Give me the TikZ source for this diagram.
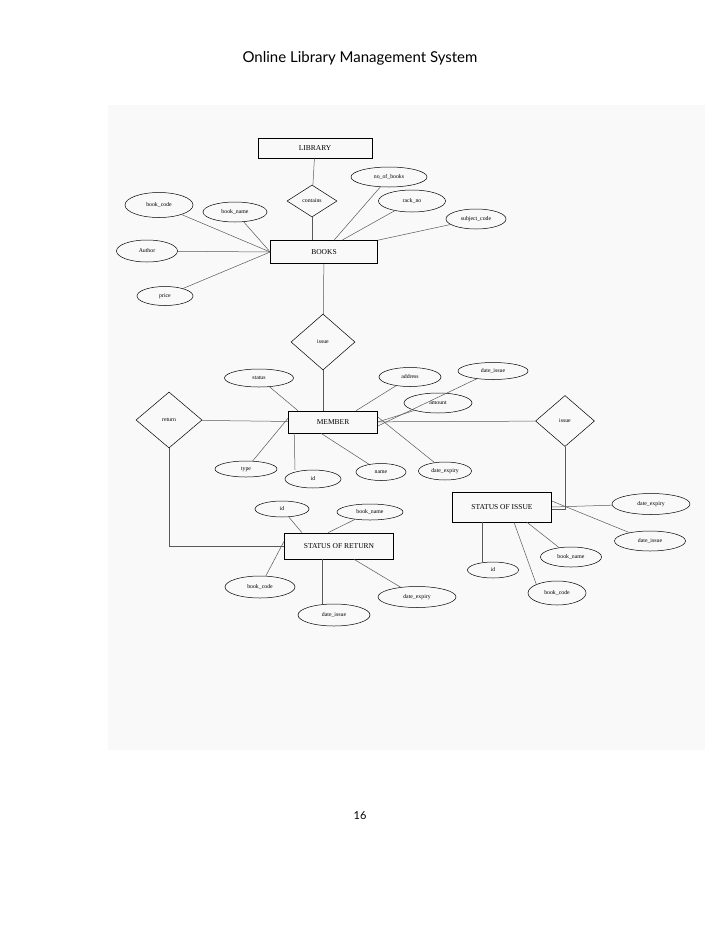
\documentclass[tikz,border=0pt]{standalone}
\usepackage{fontspec}
\setmainfont{Liberation Serif}
\newfontfamily\titlefont{Lato}
\usetikzlibrary{shapes.geometric}
\tikzset{
 ent/.style={draw,rectangle,inner sep=0pt,font=\fontsize{7.5}{8}\selectfont,line width=0.6pt},
 att/.style={draw,ellipse,inner sep=0pt,font=\fontsize{5.8}{6}\selectfont,line width=0.5pt},
 rel/.style={draw,diamond,inner sep=0pt,font=\fontsize{5.8}{6}\selectfont,line width=0.5pt},
 ln/.style={line width=0.5pt,gray!70!black}
}
\begin{document}
\begin{tikzpicture}[x=1pt,y=-1pt]
\useasboundingbox (0,0) rectangle (728,943);
\fill[gray!5] (108,105) rectangle (705,750);
\node[font=\titlefont\fontsize{15}{18}\selectfont] (title) at (360,58) {Online Library Management System};
\node[font=\titlefont\fontsize{11}{13}\selectfont] (pg) at (360,816) {16};
% top
\node[ent,minimum width=114,minimum height=20] (lib) at (315,148) {LIBRARY};
\node[rel,minimum width=50,minimum height=32] (contains) at (312,201) {contains};
\node[ent,minimum width=107,minimum height=23] (books) at (324,252) {BOOKS};
\node[att,minimum width=76,minimum height=20] (nob) at (389,177) {no\_of\_books};
\node[att,minimum width=67,minimum height=22] (rack) at (412,201) {rack\_no};
\node[att,minimum width=60,minimum height=20] (subj) at (476,219) {subject\_code};
\node[att,minimum width=68,minimum height=25] (bc1) at (159,205) {book\_code};
\node[att,minimum width=64,minimum height=20] (bn1) at (235,212) {book\_name};
\node[att,minimum width=61,minimum height=22] (auth) at (147,251) {Author};
\node[att,minimum width=56,minimum height=19] (price) at (165,296) {price};
\node[rel,minimum width=64,minimum height=56] (issue1) at (323,342) {issue};
\draw[ln] (lib) -- (contains);
\draw[ln] (contains) -- (contains.south |- books.north);
\draw[ln] (bc1) -- (books.west);
\draw[ln] (bn1) -- (books.west);
\draw[ln] (auth) -- (books.west);
\draw[ln] (price) -- (books.west);
\draw[ln] (nob) -- ([xshift=10pt]books.north);
\draw[ln] (rack) -- ([xshift=18pt]books.north);
\draw[ln] (subj) -- (books.north east);
\draw[ln] (books) -- (issue1);
% member
\node[ent,minimum width=89,minimum height=22] (mem) at (333,422) {MEMBER};
\node[att,minimum width=69,minimum height=18] (status) at (259,378) {status};
\node[att,minimum width=62,minimum height=19] (addr) at (410,377) {address};
\node[att,minimum width=70,minimum height=17] (di1) at (493,371) {date\_issue};
\node[att,minimum width=68,minimum height=20] (amount) at (438,403) {amount};
\node[rel,minimum width=66,minimum height=56] (ret) at (169,420) {return};
\node[rel,minimum width=59,minimum height=51] (issue2) at (565,421) {issue};
\node[att,minimum width=62,minimum height=16] (type) at (246,469) {type};
\node[att,minimum width=56,minimum height=18] (id1) at (313,479) {id};
\node[att,minimum width=50,minimum height=17] (name) at (381,472) {name};
\node[att,minimum width=53,minimum height=18] (de1) at (445,471) {date\_expiry};
\draw[ln] (issue1.south) -- (issue1.south |- mem.north);
\draw[ln] (status) -- ([xshift=-35pt]mem.north);
\draw[ln] (addr) -- ([xshift=23pt]mem.north);
\draw[ln] (di1) -- ([yshift=-4pt]mem.east);
\draw[ln] (amount) -- (mem.east);
\draw[ln] (ret) -- (mem);
\draw[ln] (mem) -- (issue2);
\draw[ln] (type) -- ([yshift=4pt]mem.west);
\draw[ln] ([xshift=6pt]mem.south west) -- ([xshift=-18pt]id1.north);
\draw[ln] ([xshift=-12pt]mem.south) -- (name);
\draw[ln] ([yshift=5pt]mem.east) -- (de1);
% status of issue
\node[ent,minimum width=99,minimum height=30] (soi) at (502,507) {STATUS OF ISSUE};
\node[att,minimum width=78,minimum height=21] (de2) at (651,504) {date\_expiry};
\node[att,minimum width=71,minimum height=20] (di2) at (650,541) {date\_issue};
\node[att,minimum width=61,minimum height=20] (bn2) at (571,557) {book\_name};
\node[att,minimum width=58,minimum height=24] (bc2) at (557,593) {book\_code};
\node[att,minimum width=51,minimum height=16] (id2) at (493,570) {id};
\draw[ln] (issue2.south) |- ([yshift=-2pt]soi.east);
\draw[ln] (soi.east) -- (de2);
\draw[ln] ([yshift=6pt]soi.east) -- (di2);
\draw[ln] ([xshift=25pt]soi.south) -- (bn2);
\draw[ln] ([xshift=12pt]soi.south) -- (bc2.north west);
\draw[ln] ([xshift=-20pt]soi.south) -- ([xshift=-11pt]id2.north);
% status of return
\node[ent,minimum width=109,minimum height=26] (sor) at (339,546) {STATUS OF RETURN};
\node[att,minimum width=54,minimum height=16] (id3) at (282,509) {id};
\node[att,minimum width=66,minimum height=16] (bn3) at (370,512) {book\_name};
\node[att,minimum width=70,minimum height=22] (bc3) at (260,587) {book\_code};
\node[att,minimum width=78,minimum height=21] (de3) at (417,597) {date\_expiry};
\node[att,minimum width=72,minimum height=22] (di3) at (334,615) {date\_issue};
\draw[ln] (ret.south) |- (sor.west);
\draw[ln] (id3) -- ([xshift=-37pt]sor.north);
\draw[ln] (bn3) -- ([xshift=-11pt]sor.north);
\draw[ln] ([yshift=5pt]sor.west) -- (bc3);
\draw[ln] ([xshift=-17pt]sor.south) -- ([xshift=-12pt]di3.north);
\draw[ln] ([xshift=15pt]sor.south) -- (de3);
\end{tikzpicture}
\end{document}
